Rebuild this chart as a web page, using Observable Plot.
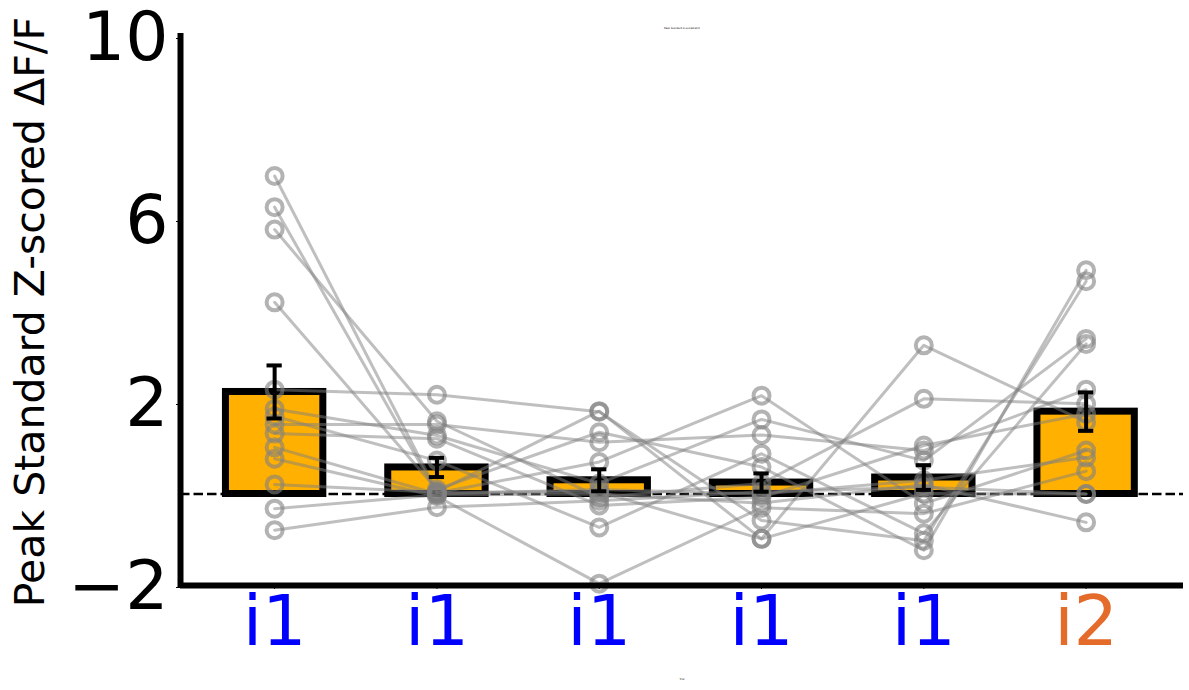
<!DOCTYPE html>
<html>
<head>
<meta charset="utf-8">
<script src="https://cdn.jsdelivr.net/npm/d3@7"></script>
<script src="https://cdn.jsdelivr.net/npm/@observablehq/plot@0.6"></script>
<style>
  html, body { margin: 0; padding: 0; background: #fff; }
  #chart svg { font-family: "DejaVu Sans", sans-serif; display: block; }
</style>
</head>
<body>
<div id="chart"></div>
<script>
// ---- data ----
const categories = [0, 1, 2, 3, 4, 5];
const tickLabels = ["i1", "i1", "i1", "i1", "i1", "i2"];
const tickColors = ["#0000ff", "#0000ff", "#0000ff", "#0000ff", "#0000ff", "#e56b2b"];
const barMeans = [2.23, 0.58, 0.30, 0.25, 0.36, 1.80];
const barSems  = [0.58, 0.21, 0.24, 0.20, 0.27, 0.42];
const yTicks = [-2, 2, 6, 10];
const yLabel = "Peak Standard Z-scored ΔF/F";
const titleText = "Peak Standard Z-scored ΔF/F";
const xLabelText = "Trial";

// one row per subject, one value per category
const subjectValues = [
  [ 6.95,  0.05,  1.81, -0.98,  3.25,  1.57],
  [ 6.27,  0.02,  0.70,  2.15, -0.21,  0.95],
  [ 5.78,  1.59, -0.07,  0.23,  2.08,  1.97],
  [ 4.19,  0.10,  1.35,  0.59, -1.23,  4.89],
  [ 2.28,  2.17,  1.80, -0.58, -1.02,  4.65],
  [ 1.86,  1.28,  0.23,  1.63,  0.73,  3.39],
  [ 1.70,  0.73, -0.73,  0.88, -0.86,  3.28],
  [ 1.52,  1.52,  1.13,  1.29,  0.95,  2.28],
  [ 1.32,  1.21, -0.25, -0.07,  1.06,  1.75],
  [ 1.02,  0.00,  0.10,  0.00,  0.30,  0.80],
  [ 0.77, -0.05, -1.96, -0.30, -0.43,  0.50],
  [ 0.21,  0.04,  0.05, -0.98,  0.01,  0.00],
  [-0.32, -0.02,  0.00, -0.20,  0.20, -0.62],
  [-0.79, -0.29, -0.15,  0.05,  0.15,  0.00]
];

// ---- tables built from the arrays ----
const bars = categories.map((c, i) => ({c, mean: barMeans[i], sem: barSems[i]}));
const points = subjectValues.flatMap((row, s) => row.map((v, i) => ({s, c: categories[i], v})));

const xDomain = [-0.58, 5.6];
const halfBar = 0.3;
const halfCap = 0.047;

const chart = Plot.plot({
  width: 1189,
  height: 690,
  marginLeft: 180,
  marginRight: 6,
  marginTop: 36,
  marginBottom: 105,
  x: {domain: xDomain, axis: null},
  y: {domain: [-2, 10], axis: null},
  color: {type: "identity"},
  marks: [
    // bars
    Plot.rect(bars, {x1: d => d.c - halfBar, x2: d => d.c + halfBar, y1: 0, y2: "mean",
      fill: "#ffb000", stroke: "black", strokeWidth: 7}),
    // zero line
    Plot.ruleY([0], {stroke: "black", strokeWidth: 2.6, strokeDasharray: "9.5,4"}),
    // subject lines
    Plot.line(points, {x: "c", y: "v", z: "s", stroke: "gray", strokeOpacity: 0.5, strokeWidth: 3}),
    // subject points
    Plot.dot(points, {x: "c", y: "v", r: 8, stroke: "gray", strokeOpacity: 0.6, strokeWidth: 4, fill: "none"}),
    // error bars
    Plot.ruleX(bars, {x: "c", y1: d => d.mean - d.sem, y2: d => d.mean + d.sem, stroke: "black", strokeWidth: 4}),
    Plot.ruleY(bars, {y: d => d.mean + d.sem, x1: d => d.c - halfCap, x2: d => d.c + halfCap, stroke: "black", strokeWidth: 4}),
    Plot.ruleY(bars, {y: d => d.mean - d.sem, x1: d => d.c - halfCap, x2: d => d.c + halfCap, stroke: "black", strokeWidth: 4}),
    // spines
    Plot.ruleX([xDomain[0]], {stroke: "black", strokeWidth: 6, strokeLinecap: "square"}),
    Plot.ruleY([-2], {stroke: "black", strokeWidth: 6}),
    // y axis
    Plot.axisY({ticks: yTicks, tickSize: 4, tickPadding: 8, fontSize: 68, label: null, dy: 2,
      tickFormat: d => (d < 0 ? "\u2212" + Math.abs(d) : String(d))}),
    // x axis ticks + coloured labels
    Plot.axisX({ticks: categories, tickSize: 4, tickPadding: 6, fontSize: 70, label: null,
      tickFormat: i => tickLabels[i], fill: i => tickColors[i]}),
    // y label
    Plot.text([yLabel], {text: d => d, frameAnchor: "left", textAnchor: "middle", rotate: -90,
      dx: -150, dy: 1, fontSize: 41, fill: "black"}),
    // tiny title and x label
    Plot.text([titleText], {text: d => d, frameAnchor: "top", dy: -9, fontSize: 2.5, fill: "black"}),
    Plot.text([xLabelText], {text: d => d, frameAnchor: "bottom", dy: 94, fontSize: 2.5, fill: "black"})
  ]
});
document.getElementById("chart").appendChild(chart);
</script>
</body>
</html>
